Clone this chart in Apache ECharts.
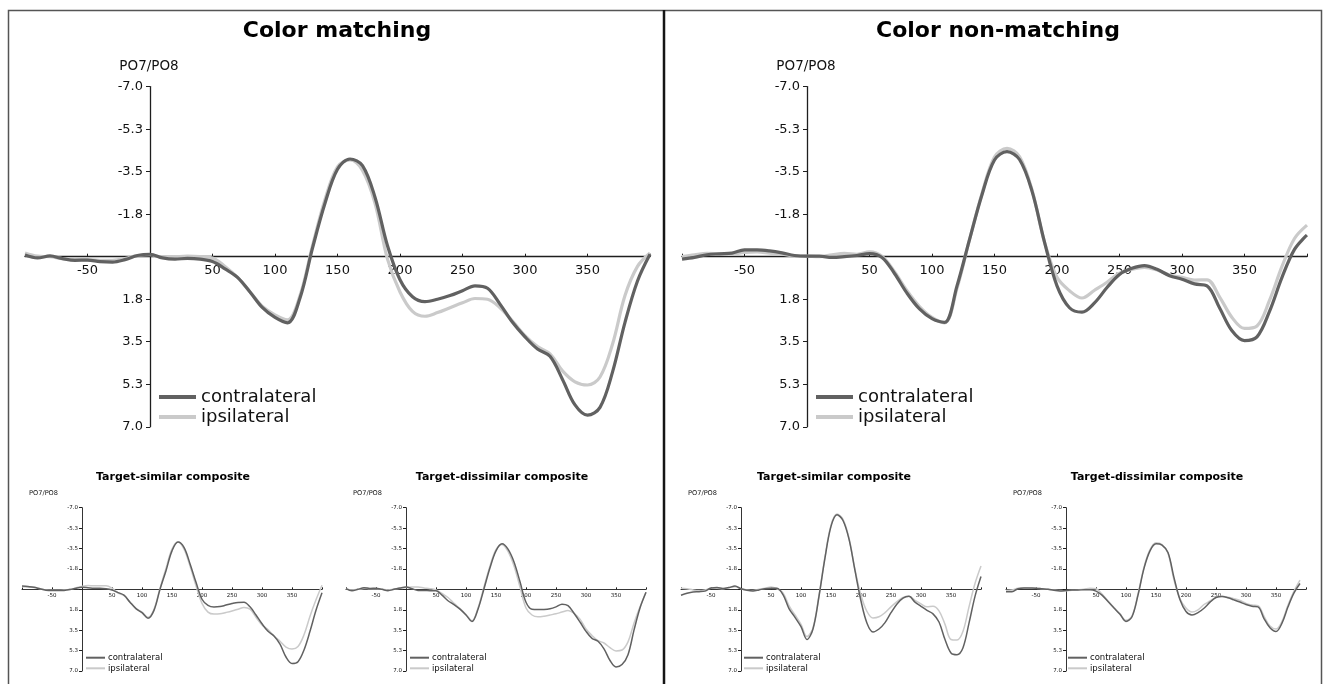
<!DOCTYPE html>
<html>
<head>
<meta charset="utf-8">
<script src="https://cdn.jsdelivr.net/npm/echarts@6/dist/echarts.min.js"></script>
<style>
  html, body { margin: 0; padding: 0; background: #fff; }
  #chart { width: 1323px; height: 684px; }
</style>
</head>
<body>
<div id="chart"></div>
<script>
// Time points (ms) shared by every waveform
const times = [-100,-90,-80,-70,-60,-50,-40,-30,-20,-10,0,10,20,30,40,50,60,70,80,90,100,
  110,120,130,140,150,160,170,180,190,200,210,220,230,240,250,260,270,280,290,300,
  310,320,330,340,350,360,370,380,390,400];

// Color matching – grand average (µV)
const matchContra = [-0.07,0.05,-0.03,0.08,0.15,0.14,0.2,0.22,0.12,-0.05,-0.1,0.05,0.1,0.07,0.1,0.2,0.5,0.85,1.45,2.1,2.5,
  2.72,1.7,-0.35,-2.2,-3.6,-4.02,-3.75,-2.45,-0.45,0.95,1.65,1.85,1.75,1.6,1.4,1.2,1.3,1.95,2.7,3.3,
  3.8,4.1,5.05,6.1,6.52,6.2,4.75,2.7,1.0,-0.1];
const matchIpsi = [-0.15,-0.02,0.0,0.08,0.1,0.12,0.15,0.15,0.08,-0.05,-0.08,0.02,0.0,-0.02,0.0,0.05,0.4,0.85,1.45,2.05,2.4,
  2.6,1.6,-0.45,-2.35,-3.7,-3.98,-3.55,-2.2,0.1,1.45,2.25,2.45,2.3,2.1,1.9,1.72,1.75,2.1,2.65,3.25,
  3.7,4.0,4.7,5.15,5.28,4.95,3.6,1.6,0.4,-0.15];

// Color non-matching – grand average
const nonContra = [0.1,0.03,-0.08,-0.12,-0.15,-0.28,-0.28,-0.24,-0.16,-0.05,-0.02,-0.02,0.03,0.0,-0.05,-0.13,0.03,0.69,1.5,2.15,2.55,
  2.7,1.2,-0.7,-2.55,-3.98,-4.32,-4.0,-2.7,-0.6,1.2,2.1,2.28,1.9,1.27,0.73,0.48,0.37,0.52,0.78,0.93,
  1.12,1.2,2.1,3.05,3.45,3.3,2.25,0.85,-0.3,-0.89];
const nonIpsi = [0.0,-0.08,-0.14,-0.12,-0.1,-0.18,-0.2,-0.15,-0.1,-0.03,-0.02,0.0,-0.08,-0.14,-0.1,-0.2,-0.02,0.62,1.4,2.05,2.5,
  2.72,1.3,-0.7,-2.6,-4.1,-4.46,-4.12,-2.75,-0.6,0.85,1.4,1.7,1.38,1.05,0.68,0.52,0.44,0.55,0.75,0.85,
  0.96,0.95,1.65,2.5,2.95,2.85,1.8,0.4,-0.75,-1.3];

// Color matching – target-similar composite
const matchSimContra = [-0.28,-0.24,-0.18,-0.05,0.07,0.1,0.1,0.09,0.02,-0.1,-0.17,-0.14,-0.1,-0.1,-0.06,0.05,0.28,0.5,1.1,1.65,2.0,
  2.48,1.8,0.0,-1.6,-3.3,-4.05,-3.6,-2.2,-0.6,0.85,1.38,1.52,1.48,1.35,1.22,1.12,1.1,1.5,2.2,2.95,
  3.6,4.0,4.7,5.8,6.35,6.2,5.2,3.6,1.8,0.3];
const matchSimIpsi = [-0.22,-0.2,-0.15,-0.05,0.05,0.08,0.08,0.06,0.0,-0.12,-0.25,-0.32,-0.3,-0.3,-0.3,-0.1,0.3,0.55,1.1,1.65,1.95,
  2.4,1.7,-0.1,-1.8,-3.45,-4.05,-3.45,-2.0,-0.3,1.2,1.95,2.12,2.1,1.98,1.85,1.7,1.55,1.7,2.4,3.05,
  3.45,4.0,4.45,4.95,5.12,4.9,3.9,2.3,0.9,-0.35];

// Color matching – target-dissimilar composite
const matchDisContra = [-0.06,0.12,0.0,-0.14,-0.08,-0.09,0.0,0.11,0.0,-0.12,-0.2,-0.05,0.09,0.1,0.11,0.12,0.5,0.98,1.3,1.7,2.2,
  2.75,1.7,-0.05,-1.85,-3.3,-3.9,-3.45,-2.35,-0.65,1.1,1.7,1.73,1.72,1.66,1.5,1.28,1.4,2.05,2.8,3.6,
  4.2,4.45,5.1,6.1,6.65,6.45,5.6,3.5,1.6,0.25];
const matchDisIpsi = [-0.06,0.05,0.0,-0.08,-0.05,-0.05,0.0,0.05,-0.02,-0.1,-0.15,-0.2,-0.2,-0.12,-0.06,0.05,0.35,0.7,1.2,1.65,2.15,
  2.7,1.6,-0.2,-2.0,-3.4,-3.85,-3.25,-2.0,-0.2,1.6,2.2,2.35,2.3,2.2,2.1,1.95,1.82,2.05,2.55,3.4,
  3.95,4.4,4.6,5.0,5.28,5.2,4.5,2.9,1.5,0.25];

// Color non-matching – target-similar composite
const nonSimContra = [0.5,0.33,0.22,0.2,0.15,-0.12,-0.15,-0.07,-0.15,-0.28,-0.05,0.08,0.14,0.05,-0.06,-0.1,-0.09,0.45,1.65,2.4,3.2,
  4.3,3.4,0.6,-2.7,-5.4,-6.4,-5.9,-4.3,-1.6,1.0,2.9,3.65,3.4,2.85,2.0,1.25,0.75,0.6,1.1,1.45,
  1.8,2.1,2.8,4.3,5.45,5.6,5.0,2.9,0.6,-1.1];
const nonSimIpsi = [-0.1,-0.05,0.05,0.1,0.05,-0.1,-0.1,-0.05,-0.15,-0.22,-0.05,0.05,0.1,0.0,-0.1,-0.2,-0.05,0.3,1.4,2.2,3.0,
  4.05,3.3,0.5,-2.8,-5.5,-6.45,-6.0,-4.4,-1.7,0.5,1.9,2.45,2.35,2.0,1.5,1.05,0.7,0.6,0.95,1.25,
  1.5,1.45,1.85,3.0,4.3,4.35,3.6,1.5,-0.5,-2.0];

// Color non-matching – target-dissimilar composite
const nonDisContra = [0.2,0.2,-0.05,-0.12,-0.11,-0.1,-0.05,0.0,0.08,0.14,0.1,0.06,0.05,0.04,0.03,0.15,0.5,1.05,1.6,2.14,2.75,
  2.35,0.5,-1.8,-3.3,-3.9,-3.8,-3.15,-1.0,0.9,1.9,2.2,2.0,1.62,1.1,0.7,0.62,0.72,0.9,1.09,1.3,
  1.45,1.5,2.5,3.3,3.62,2.9,1.5,0.3,-0.5,null];
const nonDisIpsi = [0.1,0.05,-0.1,-0.12,-0.1,-0.1,-0.05,0.0,0.05,0.1,0.12,0.08,0.05,0.0,-0.1,-0.05,0.4,1.0,1.55,2.1,2.65,
  2.3,0.4,-1.9,-3.4,-4.0,-3.85,-3.1,-0.8,0.8,1.6,1.95,1.75,1.3,1.0,0.68,0.6,0.68,0.8,0.95,1.2,
  1.35,1.4,2.3,3.15,3.4,2.75,1.35,0.15,-0.8,null];

const seriesNames = ['contralateral', 'ipsilateral'];
const titles = ['Color matching', 'Color non-matching',
  'Target-similar composite', 'Target-dissimilar composite',
  'Target-similar composite', 'Target-dissimilar composite'];
const yName = 'PO7/PO8';

const FONT = 'DejaVu Sans';
const DARK = '#616161';
const LIGHT = '#cacaca';
const AXIS = '#1e1e1e';
const X_MIN = -100, X_MAX = 400;
const Y_MIN = -7, Y_MAX = 7;

// Layout for each panel: plot rectangle and text sizes
const panels = [
  { title: titles[0], contra: matchContra, ipsi: matchIpsi, left: 25, top: 86.6, width: 625, height: 340.2,
    big: true, titleX: 337, titleY: 20, legendLeft: 159, legendTop: 387 },
  { title: titles[1], contra: nonContra, ipsi: nonIpsi, left: 682, top: 86.6, width: 625, height: 340.2,
    big: true, titleX: 998, titleY: 20, legendLeft: 816, legendTop: 387 },
  { title: titles[2], contra: matchSimContra, ipsi: matchSimIpsi, left: 22, top: 507.7, width: 300, height: 163.3,
    big: false, titleX: 173, titleY: 472, legendLeft: 86, legendTop: 652.4 },
  { title: titles[3], contra: matchDisContra, ipsi: matchDisIpsi, left: 346, top: 507.7, width: 300, height: 163.3,
    big: false, titleX: 502, titleY: 472, legendLeft: 410, legendTop: 652.4 },
  { title: titles[4], contra: nonSimContra, ipsi: nonSimIpsi, left: 681, top: 507.7, width: 300, height: 163.3,
    big: false, titleX: 834, titleY: 472, legendLeft: 744, legendTop: 652.4 },
  { title: titles[5], contra: nonDisContra, ipsi: nonDisIpsi, left: 1006, top: 507.7, width: 300, height: 163.3,
    big: false, titleX: 1157, titleY: 472, legendLeft: 1068, legendTop: 652.4 }
];

const toPairs = vals => times.map((t, i) => [t, vals[i]]);

const option = {
  animation: false,
  backgroundColor: '#fff',
  textStyle: { fontFamily: FONT },
  title: [], grid: [], xAxis: [], yAxis: [], series: [], legend: [], graphic: []
};

panels.forEach((p, i) => {
  const big = p.big;
  // distance from the plot's left edge to t = 0, and from its bottom edge to 0 µV
  const zeroOffsetX = p.width * (0 - X_MIN) / (X_MAX - X_MIN);
  const zeroOffsetY = p.height * (Y_MAX - 0) / (Y_MAX - Y_MIN);
  const zeroX = p.left + zeroOffsetX;

  option.title.push({
    text: p.title, left: p.titleX, top: p.titleY, textAlign: 'center', padding: 0,
    textStyle: { fontFamily: FONT, fontWeight: 'bold', fontSize: big ? 22 : 11, color: '#000' }
  });
  option.grid.push({
    left: p.left, top: p.top, width: p.width, height: p.height,
    containLabel: false, outerBoundsMode: 'none'
  });

  // horizontal axis crosses at 0 µV, moved up from the plot's bottom edge
  option.xAxis.push({
    type: 'value', gridIndex: i, min: X_MIN, max: X_MAX, interval: 50,
    position: 'bottom', offset: -zeroOffsetY,
    axisLine: { onZero: false, lineStyle: { color: AXIS, width: big ? 1.3 : 0.9 } },
    axisTick: { inside: true, length: big ? 3 : 2, lineStyle: { color: AXIS, width: 1 } },
    axisLabel: {
      margin: big ? 7 : 3, fontSize: big ? 13 : 5.5, color: '#111', fontFamily: FONT,
      formatter: v => (v === 0 || v === X_MIN || v === X_MAX) ? '' : String(v)
    },
    splitLine: { show: false }
  });
  // vertical axis sits at t = 0, moved in from the plot's left edge
  option.yAxis.push({
    type: 'value', gridIndex: i, min: Y_MIN, max: Y_MAX, interval: 1.75, inverse: true,
    position: 'left', offset: -zeroOffsetX,
    axisLine: { show: true, onZero: false, lineStyle: { color: AXIS, width: big ? 1.3 : 0.9 } },
    axisTick: { show: true, inside: false, length: big ? 4 : 3, lineStyle: { color: AXIS, width: 1 } },
    axisLabel: {
      margin: big ? 7 : 4, fontSize: big ? 13 : 5.5, color: '#111', fontFamily: FONT,
      formatter: v => Math.abs(v) < 1e-9 ? '' : v.toFixed(1)
    },
    splitLine: { show: false }
  });

  // ipsilateral underneath, contralateral on top
  option.series.push({
    name: seriesNames[1], type: 'line', xAxisIndex: i, yAxisIndex: i,
    data: toPairs(p.ipsi), smooth: 0.35, showSymbol: false, symbol: 'none',
    color: LIGHT, itemStyle: { color: LIGHT },
    lineStyle: { color: LIGHT, width: big ? 3.2 : 1.5 }, z: 2
  });
  option.series.push({
    name: seriesNames[0], type: 'line', xAxisIndex: i, yAxisIndex: i,
    data: toPairs(p.contra), smooth: 0.35, showSymbol: false, symbol: 'none',
    color: DARK, itemStyle: { color: DARK },
    lineStyle: { color: DARK, width: big ? 3.2 : 1.5 }, z: 3
  });

  option.legend.push({
    data: seriesNames, orient: 'vertical', left: p.legendLeft, top: p.legendTop, padding: 0,
    icon: 'rect', itemWidth: big ? 37 : 19, itemHeight: big ? 4 : 2, itemGap: 0,
    selectedMode: false,
    textStyle: { fontFamily: FONT, fontSize: big ? 18 : 8.5, lineHeight: big ? 20 : 10.6, color: '#111',
                 padding: [0, 0, 0, big ? 0 : -2] }
  });

  option.graphic.push({
    type: 'text', silent: true,
    style: {
      text: yName,
      x: big ? zeroX - 1 : zeroX - 24,
      y: big ? 66.7 : 493,
      align: big ? 'center' : 'right',
      verticalAlign: 'middle',
      font: (big ? '13.5px ' : '6.6px ') + FONT,
      fill: '#111'
    }
  });
});

// Panel frame and divider
option.graphic.push({
  type: 'rect', silent: true, z: -1,
  shape: { x: 8.5, y: 10.5, width: 1313, height: 700 },
  style: { fill: 'none', stroke: '#555', lineWidth: 1.5 }
});
option.graphic.push({
  type: 'line', silent: true,
  shape: { x1: 664, y1: 10, x2: 664, y2: 684 },
  style: { stroke: '#151515', lineWidth: 2.5 }
});

const chart = echarts.init(document.getElementById('chart'), null, { renderer: 'canvas' });
chart.setOption(option);
</script>
</body>
</html>
